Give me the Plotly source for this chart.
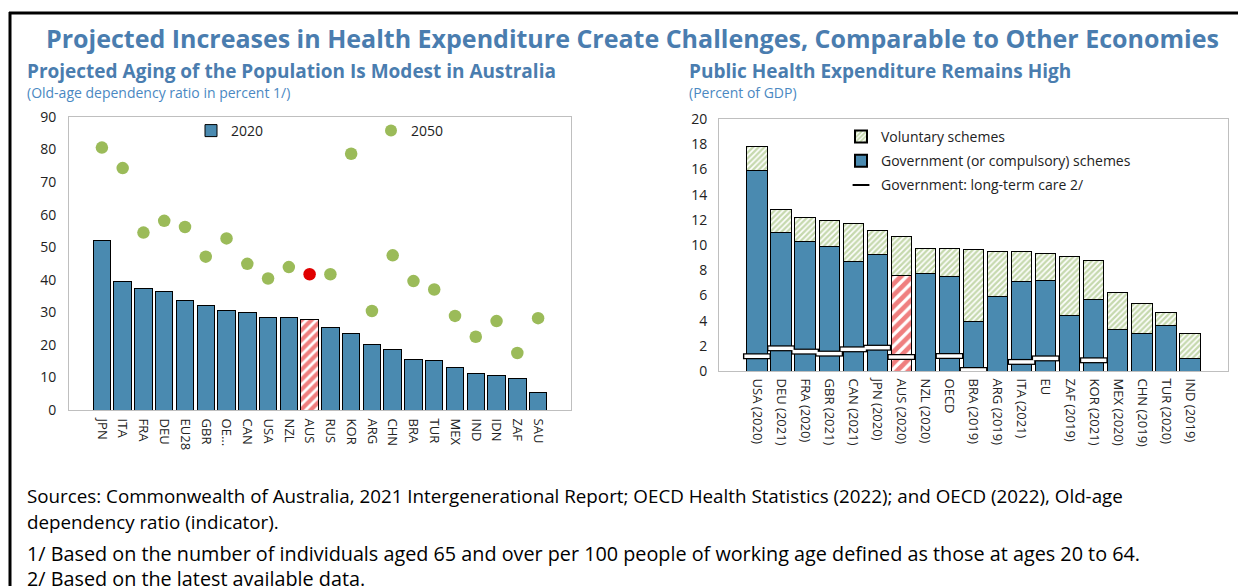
import plotly.graph_objects as go

# ---------------- data ----------------
left_countries = ["JPN", "ITA", "FRA", "DEU", "EU28", "GBR", "OECD", "CAN", "USA", "NZL", "AUS",
                  "RUS", "KOR", "ARG", "CHN", "BRA", "TUR", "MEX", "IND", "IDN", "ZAF", "SAU"]
left_ticklabels = ["JPN", "ITA", "FRA", "DEU", "EU28", "GBR", "OE...", "CAN", "USA", "NZL", "AUS",
                   "RUS", "KOR", "ARG", "CHN", "BRA", "TUR", "MEX", "IND", "IDN", "ZAF", "SAU"]
ratio_2020 = [52.0, 39.5, 37.3, 36.5, 33.5, 32.0, 30.5, 29.9, 28.4, 28.3, 27.8,
              25.3, 23.5, 20.2, 18.6, 15.5, 15.2, 13.2, 11.3, 10.6, 9.7, 5.4]
ratio_2050 = [80.6, 74.3, 54.5, 58.1, 56.2, 47.1, 52.7, 44.9, 40.4, 43.9, 41.7,
              41.7, 78.7, 30.4, 47.5, 39.6, 37.0, 28.9, 22.5, 27.3, 17.5, 28.2]

right_countries = ["USA (2020)", "DEU (2021)", "FRA (2020)", "GBR (2021)", "CAN (2021)", "JPN (2020)",
                   "AUS (2020)", "NZL (2020)", "OECD", "BRA (2019)", "ARG (2019)", "ITA (2021)", "EU",
                   "ZAF (2019)", "KOR (2021)", "MEX (2020)", "CHN (2019)", "TUR (2020)", "IND (2019)"]
total_exp = [17.78, 12.85, 12.21, 11.95, 11.68, 11.15, 10.68, 9.75, 9.75, 9.62, 9.51, 9.46, 9.32,
             9.11, 8.79, 6.25, 5.38, 4.61, 2.99]
gov_exp = [15.95, 11.02, 10.30, 9.91, 8.69, 9.27, 7.60, 7.76, 7.52, 3.95, 5.93, 7.13, 7.20,
           4.37, 5.70, 3.31, 2.99, 3.63, 1.03]
ltc_exp = [1.17, 1.80, 1.54, 1.38, 1.72, 1.85, 1.11, None, 1.19, 0.08, None, 0.72, 1.00,
           None, 0.85, None, None, None, None]

voluntary_exp = [round(t - g, 2) for t, g in zip(total_exp, gov_exp)]

# ---------------- styles ----------------
BLUE = "#4A8AB0"
GREEN = "#9BBB59"
RED = "#E00000"
TITLE_BLUE = "#4A7DAF"
SUB_BLUE = "#4A88C2"
FONT = "Open Sans"
W, H = 1238, 586


def px(x):
    return x / W


def py(y):
    return 1 - y / H


def is_aus(c):
    return c.startswith("AUS")


fig = go.Figure()

# Left chart: 2020 bars (AUS highlighted separately)
fig.add_trace(go.Bar(
    x=left_countries, y=[None if is_aus(c) else v for c, v in zip(left_countries, ratio_2020)],
    name="2020", xaxis="x", yaxis="y", legend="legend",
    marker=dict(color=BLUE, line=dict(color="black", width=1)),
))
fig.add_trace(go.Bar(
    x=left_countries, y=[v if is_aus(c) else None for c, v in zip(left_countries, ratio_2020)],
    name="2020 (AUS)", xaxis="x", yaxis="y", showlegend=False,
    marker=dict(color="white", line=dict(color="black", width=1),
                pattern=dict(shape="/", fgcolor=RED, bgcolor="white", size=7, solidity=0.6)),
))
# Left chart: 2050 dots
fig.add_trace(go.Scatter(
    x=left_countries, y=ratio_2050, name="2050", mode="markers", xaxis="x", yaxis="y",
    legend="legend2",
    marker=dict(size=12.5, color=[RED if is_aus(c) else GREEN for c in left_countries]),
))

# Right chart: government
fig.add_trace(go.Bar(
    x=right_countries, y=[None if is_aus(c) else v for c, v in zip(right_countries, gov_exp)],
    name="Government (or compulsory) schemes", legendgroup="g2",
    xaxis="x2", yaxis="y2", legend="legend3", legendrank=2,
    marker=dict(color=BLUE, line=dict(color="black", width=1)),
))
fig.add_trace(go.Bar(
    x=right_countries, y=[v if is_aus(c) else None for c, v in zip(right_countries, gov_exp)],
    name="Government (AUS)", xaxis="x2", yaxis="y2", showlegend=False,
    marker=dict(color="white", line=dict(color="black", width=1),
                pattern=dict(shape="/", fgcolor=RED, bgcolor="white", size=8, solidity=0.6)),
))
# Right chart: voluntary
fig.add_trace(go.Bar(
    x=right_countries, y=voluntary_exp, name="Voluntary schemes", legendgroup="g1",
    xaxis="x2", yaxis="y2", legend="legend3", legendrank=1,
    marker=dict(
        color="white",
        line=dict(color="black", width=1),
        pattern=dict(shape="/", fgcolor="#8DB35E", bgcolor="white", size=4, solidity=0.6),
    ),
))
# Right chart: long-term care markers
fig.add_trace(go.Scatter(
    x=right_countries, y=ltc_exp, name="Government: long-term care 2/", mode="markers",
    legendgroup="g3",
    xaxis="x2", yaxis="y2", legend="legend3", legendrank=3,
    marker=dict(symbol="line-ew", size=20, line=dict(color="black", width=6)),
))
fig.add_trace(go.Scatter(
    x=right_countries, y=ltc_exp, name="Government: long-term care 2/", mode="markers",
    xaxis="x2", yaxis="y2", showlegend=False, hoverinfo="skip",
    marker=dict(symbol="line-ew", size=18, line=dict(color="white", width=3.5)),
))

axis_common = dict(showline=True, mirror=True, linecolor="#BFBFBF", linewidth=1,
                   showgrid=False, zeroline=False, ticks="", automargin=False,
                   tickfont=dict(family=FONT, size=13, color="#222"))
yfont = dict(family=FONT, size=14, color="#222")
legfont = dict(family=FONT, size=14, color="#222")

fig.update_layout(
    width=W, height=H,
    margin=dict(l=0, r=0, t=0, b=0),
    paper_bgcolor="white", plot_bgcolor="white",
    barmode="stack", bargap=0.16,
    font=dict(family=FONT, color="#222"),
    xaxis=dict(domain=[px(69), px(571)], anchor="y", tickangle=90,
               tickmode="array", tickvals=left_countries, ticktext=left_ticklabels,
               ticklabelstandoff=5, **axis_common),
    yaxis=dict(domain=[py(410), py(117)], anchor="x", range=[0, 90], dtick=10,
               ticklabelstandoff=9, **{**axis_common, "tickfont": yfont}),
    xaxis2=dict(domain=[px(719), px(1228)], anchor="y2", tickangle=90,
                ticklabelstandoff=4, **axis_common),
    yaxis2=dict(domain=[py(371), py(119)], anchor="x2", range=[0, 20], dtick=2,
                ticklabelstandoff=8, **{**axis_common, "tickfont": yfont}),
    legend=dict(x=px(191), y=py(115), xanchor="left", yanchor="top", bgcolor="rgba(0,0,0,0)",
                font=legfont),
    legend2=dict(x=px(371), y=py(115), xanchor="left", yanchor="top", bgcolor="rgba(0,0,0,0)",
                 font=legfont, itemsizing="constant"),
    legend3=dict(x=px(841), y=py(121), xanchor="left", yanchor="top", bgcolor="rgba(0,0,0,0)",
                 font=legfont, traceorder="grouped", tracegroupgap=3,
                 itemsizing="constant"),
)

annotations = [
    dict(text="<b>Projected Increases in Health Expenditure Create Challenges, Comparable to Other Economies</b>",
         x=px(632), y=py(38), xanchor="center", yanchor="middle",
         font=dict(family=FONT, size=25, color=TITLE_BLUE)),
    dict(text="<b>Projected Aging of the Population Is Modest in Australia</b>",
         x=px(25), y=py(71), xanchor="left", yanchor="middle",
         font=dict(family=FONT, size=19, color=TITLE_BLUE)),
    dict(text="(Old-age dependency ratio in percent 1/)",
         x=px(25), y=py(92), xanchor="left", yanchor="middle",
         font=dict(family=FONT, size=14, color=SUB_BLUE)),
    dict(text="<b>Public Health Expenditure Remains High</b>",
         x=px(687), y=py(71), xanchor="left", yanchor="middle",
         font=dict(family=FONT, size=19, color=TITLE_BLUE)),
    dict(text="(Percent of GDP)",
         x=px(687), y=py(92), xanchor="left", yanchor="middle",
         font=dict(family=FONT, size=14, color=SUB_BLUE)),
    dict(text="Sources: Commonwealth of Australia, 2021 Intergenerational Report; OECD Health Statistics (2022); and OECD (2022), Old-age",
         x=px(25), y=py(496), xanchor="left", yanchor="middle",
         font=dict(family=FONT, size=18.8, color="black")),
    dict(text="dependency ratio (indicator).",
         x=px(25), y=py(522), xanchor="left", yanchor="middle",
         font=dict(family=FONT, size=18.8, color="black")),
    dict(text="1/ Based on the number of individuals aged 65 and over per 100 people of working age defined as those at ages 20 to 64.",
         x=px(25), y=py(553), xanchor="left", yanchor="middle",
         font=dict(family=FONT, size=19.8, color="black")),
    dict(text="2/ Based on the latest available data.",
         x=px(25), y=py(578), xanchor="left", yanchor="middle",
         font=dict(family=FONT, size=19.8, color="black")),
]
for a in annotations:
    a.update(xref="paper", yref="paper", showarrow=False)
fig.update_layout(annotations=annotations)

fig.update_layout(shapes=[
    dict(type="line", xref="paper", yref="paper", x0=px(9), x1=1, y0=py(13), y1=py(13),
         line=dict(color="black", width=3)),
    dict(type="line", xref="paper", yref="paper", x0=px(10), x1=px(10), y0=py(12), y1=0,
         line=dict(color="black", width=3)),
])

fig.write_html("out.html", config={"displayModeBar": False},
               post_script="document.body.style.margin='0';")
